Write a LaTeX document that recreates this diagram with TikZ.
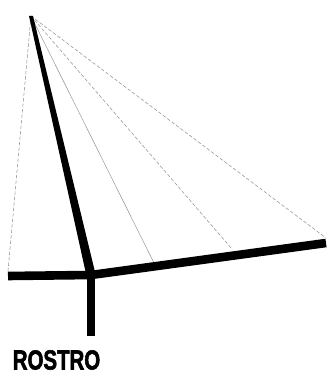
\documentclass[tikz,border=0pt]{standalone}
\usepackage{fontspec}
\setmainfont{Liberation Sans}
\newfontfamily\labelfont[FakeStretch=0.74,FakeBold=2]{Liberation Sans Bold}
\tikzset{
  thickbar/.style={line width=8.6pt,black},
  ray/.style={line width=0.55pt,black!42,dash pattern=on 3.5pt off 2pt},
  thinray/.style={line width=0.5pt,black!42},
  caption/.style={inner sep=0pt,font=\labelfont\fontsize{27.6}{28}\selectfont}
}
\begin{document}
\begin{tikzpicture}[x=1pt,y=-1pt]
\useasboundingbox (0,0) rectangle (334,382);
\coordinate (apex) at (31,16);
\coordinate (joint) at (91,275);
\coordinate (left) at (8,276);
\coordinate (bottom) at (91,336);
\coordinate (right) at (326,243);
\coordinate (rayA) at (8,271);
\coordinate (rayB) at (154,263);
\coordinate (rayC) at (232,249);
\coordinate (rayD) at (326,238);
\draw[ray] (apex) -- (rayA);
\draw[thinray] (apex) -- (rayB);
\draw[ray] (apex) -- (rayC);
\draw[ray] (apex) -- (rayD);
\fill[black] (29,16) -- (33,16) -- (95.5,274) -- (86.5,276) -- cycle;
\draw[thickbar] (left) -- (joint);
\draw[thickbar] (joint) -- (bottom);
\draw[thickbar] (joint) -- (right);
\node[caption] (label) at (56.5,360) {ROSTRO};
\end{tikzpicture}
\end{document}
